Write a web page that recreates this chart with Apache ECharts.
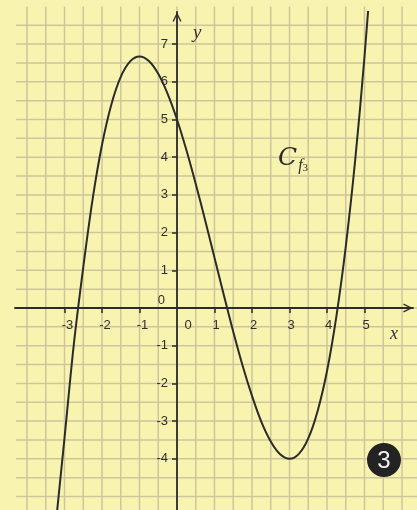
<!DOCTYPE html>
<html>
<head>
<meta charset="utf-8">
<script src="https://cdn.jsdelivr.net/npm/echarts@6/dist/echarts.min.js"></script>
<style>
  html, body { margin: 0; padding: 0; background: #f8f4b0; }
  #chart { width: 417px; height: 510px; }
</style>
</head>
<body>
<div id="chart"></div>
<script>
// Curve C_f3 sampled every quarter unit
const xValues = [-3.25, -3.0, -2.75, -2.5, -2.25, -2.0, -1.75, -1.5, -1.25, -1.0,
  -0.75, -0.5, -0.25, 0, 0.25, 0.5, 0.75, 1.0, 1.25, 1.5, 1.75, 2.0, 2.25, 2.5,
  2.75, 3.0, 3.25, 3.5, 3.75, 4.0, 4.25, 4.5, 4.75, 5.0, 5.25];
const yValues = [-5.9, -3.45, -0.95, 1.08, 2.89, 4.33, 5.40, 6.13, 6.54, 6.67,
  6.55, 6.21, 5.68, 5.0, 4.19, 3.29, 2.33, 1.33, 0.34, -0.63, -1.53, -2.33, -3.02, -3.54,
  -3.88, -4.0, -3.87, -3.46, -2.73, -1.67, -0.22, 1.63, 3.91, 6.67, 9.92];

// Axis graduations
const xTickLabels = [-3, -2, -1, 0, 1, 2, 3, 4, 5];
const yTickLabels = [-4, -3, -2, -1, 0, 1, 2, 3, 4, 5, 6, 7];

// Visible window of the squared paper
const X_MIN = -4.32, X_MAX = 6.293;
const Y_MIN = -5.358, Y_MAX = 7.851;

const curve = xValues.map((x, i) => [x, yValues[i]]);

// Half-unit squared paper: [0, v] vertical line at x=v, [1, v] horizontal at y=v
const paper = [];
for (let v = -4; v <= 6.001; v += 0.5) paper.push([0, v]);
for (let v = -5; v <= 7.501; v += 0.5) paper.push([1, v]);

const ink = '#2b2b2b';
const labelColor = '#2e2e2e';
const arrowPath = 'path://M0,10 L5,0 L10,10 L8.6,10.6 L5,3.2 L1.4,10.6 Z';

const GRID = { left: 15, right: 4, top: 12, bottom: 0 };
const W = 417, H = 510;
// pixel position of the origin inside the grid
const originX = GRID.left + (0 - X_MIN) / (X_MAX - X_MIN) * (W - GRID.left - GRID.right);
const originY = GRID.top + (Y_MAX - 0) / (Y_MAX - Y_MIN) * (H - GRID.top - GRID.bottom);

const chart = echarts.init(document.getElementById('chart'), null, { renderer: 'canvas' });
chart.setOption({
  backgroundColor: '#f8f4b0',
  animation: false,
  grid: Object.assign({ containLabel: false, outerBoundsMode: 'none' }, GRID),
  xAxis: {
    type: 'value', min: X_MIN, max: X_MAX,
    position: 'bottom',
    offset: -(H - GRID.bottom - originY),
    axisLine: { show: true, onZero: false, symbol: ['none', arrowPath], symbolSize: [9, 10],
      symbolOffset: [0, -5], lineStyle: { color: ink, width: 1.8 } },
    axisTick: { show: true, customValues: [-3, -2, -1, 1, 2, 3, 4, 5], length: 5,
      lineStyle: { color: ink, width: 1.5 } },
    axisLabel: {
      show: true, customValues: xTickLabels, margin: 11,
      fontFamily: 'Liberation Sans', fontSize: 13, color: labelColor,
      formatter: v => v === 0 ? '{z|0}' : (v < 0 ? '{n|' + v + '}' : '{p|' + v + '}'),
      rich: {
        z: { padding: [0, 0, 0, 22], fontFamily: 'Liberation Sans', fontSize: 13, color: labelColor },
        n: { padding: [0, 0, 0, 6], fontFamily: 'Liberation Sans', fontSize: 13, color: labelColor },
        p: { padding: [0, 0, 0, 3], fontFamily: 'Liberation Sans', fontSize: 13, color: labelColor }
      }
    },
    splitLine: { show: false }
  },
  yAxis: {
    type: 'value', min: Y_MIN, max: Y_MAX,
    position: 'left',
    offset: -(originX - GRID.left),
    axisLine: { show: true, onZero: false, symbol: ['none', arrowPath], symbolSize: [9, 10],
      symbolOffset: [0, -5], lineStyle: { color: ink, width: 1.8 } },
    axisTick: { show: true, customValues: [-4, -3, -2, -1, 1, 2, 3, 4, 5, 6, 7], length: 5,
      lineStyle: { color: ink, width: 1.5 } },
    axisLabel: {
      show: true, customValues: yTickLabels, margin: 9,
      fontFamily: 'Liberation Sans', fontSize: 13, color: labelColor,
      formatter: v => v === 0 ? '{z|0}' : String(v),
      rich: {
        z: { padding: [0, 3, 16, 0], fontFamily: 'Liberation Sans', fontSize: 13, color: labelColor }
      }
    },
    splitLine: { show: false }
  },
  series: [
    {
      type: 'custom',
      silent: true,
      clip: false,
      z: 0,
      data: paper,
      renderItem: (params, api) => {
        const kind = api.value(0), v = api.value(1);
        let a, b;
        if (kind === 0) { a = api.coord([v, 8.0]); b = api.coord([v, -5.6]); }
        else { a = api.coord([-4.29, v]); b = api.coord([6.6, v]); }
        return { type: 'line', shape: { x1: a[0], y1: a[1], x2: b[0], y2: b[1] },
          style: { stroke: '#cfc59b', lineWidth: 1.5 } };
      }
    },
    {
      type: 'line',
      data: curve,
      smooth: 0.35,
      symbol: 'none',
      clip: true,
      z: 5,
      lineStyle: { color: ink, width: 2 }
    }
  ],
  graphic: [
    { type: 'text', left: 390, top: 325, silent: true, z: 100,
      style: { text: 'x', font: 'italic 18px "Liberation Serif"', fill: '#333' } },
    { type: 'text', left: 193, top: 23, silent: true, z: 100,
      style: { text: 'y', font: 'italic 19px "Liberation Serif"', fill: '#333' } },
    { type: 'text', left: 278, top: 146, silent: true, z: 100,
      style: {
        text: '{c|C}{s|f}{t|3}',
        rich: {
          c: { font: 'italic 25px "DejaVu Serif"', fill: '#2b2b2b' },
          s: { font: 'italic 16px "Liberation Serif"', fill: '#2b2b2b', padding: [14, 0, 0, 1] },
          t: { font: '11px "Liberation Serif"', fill: '#2b2b2b', padding: [20, 0, 0, 0] }
        }
      } },
    { type: 'circle', silent: true, z: 100, shape: { cx: 384, cy: 460, r: 17 }, style: { fill: '#232323' } },
    { type: 'text', silent: true, z: 101, x: 384, y: 461,
      style: { text: '3', font: '24px "Liberation Sans"', fill: '#f2f2f2', align: 'center', verticalAlign: 'middle' } }
  ]
});
</script>
</body>
</html>
